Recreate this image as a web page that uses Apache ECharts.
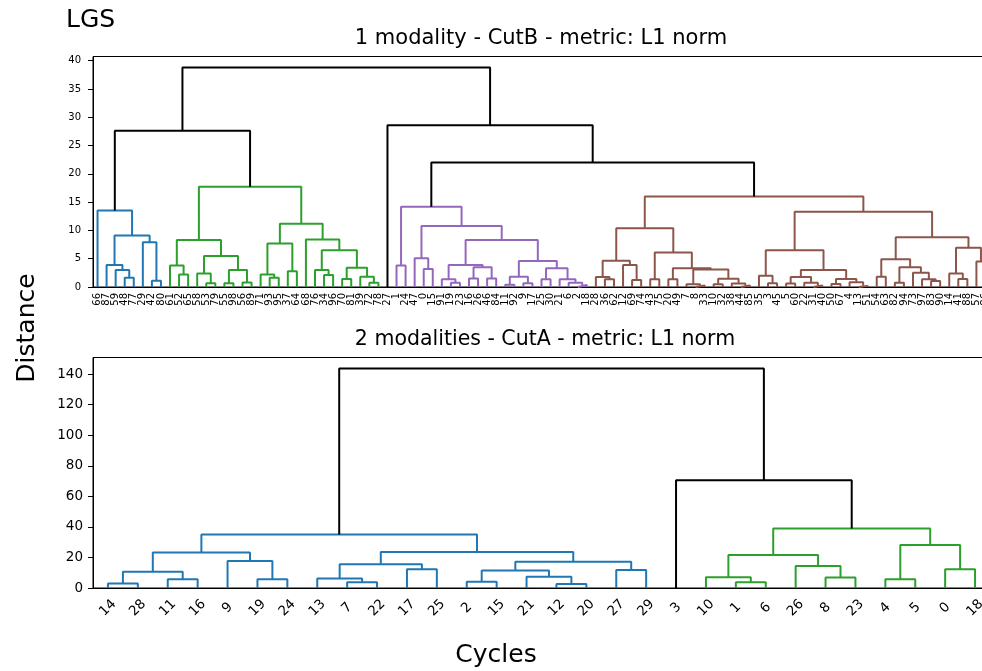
<!DOCTYPE html>
<html><head><meta charset="utf-8">
<script src="https://cdn.jsdelivr.net/npm/echarts@6/dist/echarts.min.js"></script>
<style>html,body{margin:0;padding:0;background:#fff}#c{width:982px;height:671px}</style>
</head><body><div id="c"></div>
<script>
// ---------- DATA ----------
// Leaf labels in dendrogram order (left to right)
const topLeaves = [66,87,59,48,77,29,42,80,61,52,65,58,53,79,55,98,56,89,71,93,95,37,64,68,76,34,96,70,81,39,72,78,27,1,24,47,0,15,91,19,23,16,26,46,84,11,92,9,17,25,30,21,6,2,18,28,36,62,12,69,74,43,75,20,49,7,8,33,10,32,38,44,85,35,3,45,5,60,22,31,40,50,67,4,13,51,54,63,82,94,73,97,83,90,14,41,88,57,86];
const bottomLeaves = [14,28,11,16,9,19,24,13,7,22,17,25,2,15,21,12,20,27,29,3,10,1,6,26,8,23,4,5,0,18];

// Merge trees: a leaf is its position in the leaf order, a merge is [left, right, distance]
const topBlue = [0, [[1, [2, [3, 4, 1.65], 3.0], 3.9], [5, [6, 7, 1.1], 7.9], 9.1], 13.5];
const topGreenL = [[8, [9, 10, 2.2], 3.8], [[11, [12, 13, 0.65], 2.4], [[14, 15, 0.65], [16, 17, 0.8], 3.0], 5.5], 8.3];
const topGreenR = [[[18, [19, 20, 1.65], 2.2], [21, 22, 2.8], 7.7], [23, [[24, [25, 26, 2.1], 3.0], [[27, 28, 1.4], [29, [30, 31, 0.75], 1.8], 3.4], 6.5], 8.4], 11.2];
const topPurpleA = [[38, [39, 40, 0.75], 1.35], [[41, 42, 1.5], [43, 44, 1.5], 3.5], 3.9];
const topPurpleB = [[[45, 46, 0.4], [47, 48, 0.65], 1.8], [[49, 50, 1.35], [51, [52, [53, 54, 0.35], 0.75], 1.35], 3.3], 4.6];
const topBrownL = [[[55, [56, 57, 1.35], 1.75], [58, [59, 60, 1.25], 3.9], 4.65], [[61, 62, 1.35], [[63, 64, 1.35], [[65, [66, 67, 0.25], 0.5], [[68, 69, 0.5], [70, [71, 72, 0.25], 0.6], 1.45], 3.1], 3.3], 6.1], 10.4];
const topBrownR1 = [[73, [74, 75, 0.65], 2.0], [[[76, 77, 0.6], [78, [79, 80, 0.25], 0.75], 1.75], [[81, 82, 0.55], [83, [84, 85, 0.2], 0.85], 1.4], 3.0], 6.5];
const topBrownR2 = [[[86, 87, 1.8], [[88, 89, 0.75], [90, [91, [92, 93, 1.05], 1.35], 2.5], 3.5], 4.9], [[94, [95, 96, 1.4], 2.4], [97, 98, 4.5], 6.95], 8.8];
const topHeights = { green: 17.7, purple: 14.2, purpleMid: 10.8, purpleSub: 8.3, purpleSmall: 3.8, purple35: 5.1, purple36: 3.2,
  brownR: 13.3, brown: 16.0, blueGreen: 27.6, purpleBrown: 22.0, single27: 28.6, root: 38.8 };
const topThreshold = 20;
const topPalette = ['#1f77b4', '#2ca02c', '#9467bd', '#8c564b'];

const bottomBlue = [[[[0, 1, 3.0], [2, 3, 5.7], 10.7], [4, [5, 6, 5.7], 17.7], 23.3], [[[7, [8, 9, 3.7], 6.3], [10, 11, 12.2], 15.6], [[[12, 13, 4.1], [14, [15, 16, 2.6], 7.4], 11.4], [17, 18, 11.8], 17.2], 23.5], 35.1];
const bottomGreen = [[[20, [21, 22, 3.7], 7.0], [23, [24, 25, 6.8], 14.4], 21.6], [[26, 27, 5.7], [28, 29, 12.2], 28.1], 39.0];
const bottomHeights = { single3: 70.6, root: 143.7 };
const bottomThreshold = 50;
const bottomPalette = ['#1f77b4', '#2ca02c'];

const topYTicks = { interval: 5 };
const bottomYTicks = { interval: 20 };

// ---------- TREE ASSEMBLY ----------
const H = topHeights;
const topPurple = [[33, 34, H.purpleSmall], [[35, [36, 37, H.purple36], H.purple35], [topPurpleA, topPurpleB, H.purpleSub], H.purpleMid], H.purple];
const topGreen = [topGreenL, topGreenR, H.green];
const topBrown = [topBrownL, [topBrownR1, topBrownR2, H.brownR], H.brown];
const topTree = [[topBlue, topGreen, H.blueGreen], [32, [topPurple, topBrown, H.purpleBrown], H.single27], H.root];
const bottomTree = [bottomBlue, [19, bottomGreen, bottomHeights.single3], bottomHeights.root];

function buildLinks(tree, threshold, palette) {
  const links = []; let ci = 0;
  function walk(node, color) {
    if (typeof node === 'number') return { x: node * 10 + 5, h: 0 };
    const l = node[0], r = node[1], h = node[2];
    let c;
    if (h >= threshold) c = '#000000';
    else if (color == null) c = palette[(ci++) % palette.length];
    else c = color;
    const pass = (c === '#000000') ? null : c;
    const L = walk(l, pass);
    const R = walk(r, pass);
    links.push({ pts: [[L.x, L.h], [L.x, h], [R.x, h], [R.x, R.h]], color: c });
    return { x: (L.x + R.x) / 2, h: h };
  }
  walk(tree, null);
  return links;
}
function maxH(tree) { return typeof tree === 'number' ? 0 : Math.max(tree[2], maxH(tree[0]), maxH(tree[1])); }

const topLinks = buildLinks(topTree, topThreshold, topPalette);
const bottomLinks = buildLinks(bottomTree, bottomThreshold, bottomPalette);

const FONT = '"DejaVu Sans", "Liberation Sans", sans-serif';
const series = [];
topLinks.forEach(k => series.push({ type: 'line', xAxisIndex: 1, yAxisIndex: 0, data: k.pts, symbol: 'none', silent: true,
  lineStyle: { color: k.color, width: 2 }, animation: false }));
bottomLinks.forEach(k => series.push({ type: 'line', xAxisIndex: 3, yAxisIndex: 1, data: k.pts, symbol: 'none', silent: true,
  lineStyle: { color: k.color, width: 2 }, animation: false }));

function fmt(step) { return v => (Math.abs(v / step - Math.round(v / step)) < 1e-6 ? String(Math.round(v)) : ''); }

const chart = echarts.init(document.getElementById('c'), null, { renderer: 'canvas' });
chart.setOption({
  animation: false,
  backgroundColor: '#fff',
  grid: [
    { left: 93, top: 56.5, width: 897, height: 230.5, show: true, borderColor: '#000', borderWidth: 1, backgroundColor: 'transparent', outerBoundsMode: 'none', containLabel: false },
    { left: 93, top: 357.5, width: 897, height: 230.5, show: true, borderColor: '#000', borderWidth: 1, backgroundColor: 'transparent', outerBoundsMode: 'none', containLabel: false }
  ],
  xAxis: [
    { type: 'category', gridIndex: 0, data: topLeaves.map(String), boundaryGap: true,
      axisLine: { lineStyle: { color: '#000', width: 1 } }, axisTick: { show: false },
      axisLabel: { interval: 0, rotate: 90, fontSize: 10, fontFamily: FONT, color: '#000', margin: 6 }, splitLine: { show: false } },
    { type: 'value', gridIndex: 0, min: 0, max: topLeaves.length * 10, show: false, splitLine: { show: false } },
    { type: 'category', gridIndex: 1, data: bottomLeaves.map(String), boundaryGap: true,
      axisLine: { lineStyle: { color: '#000', width: 1 } }, axisTick: { show: false },
      axisLabel: { interval: 0, rotate: 45, align: 'center', verticalAlign: 'middle', fontSize: 13.5, fontFamily: FONT, color: '#000', margin: 20 }, splitLine: { show: false } },
    { type: 'value', gridIndex: 1, min: 0, max: bottomLeaves.length * 10, show: false, splitLine: { show: false } }
  ],
  yAxis: [
    { type: 'value', gridIndex: 0, min: 0, max: maxH(topTree) * 1.05, interval: topYTicks.interval,
      axisLine: { show: true, lineStyle: { color: '#000', width: 1 } },
      axisTick: { show: true, length: 5, lineStyle: { color: '#000' } },
      axisLabel: { fontSize: 10, fontFamily: FONT, color: '#000', margin: 12, showMaxLabel: false, formatter: fmt(topYTicks.interval) },
      splitLine: { show: false } },
    { type: 'value', gridIndex: 1, min: 0, max: maxH(bottomTree) * 1.05, interval: bottomYTicks.interval,
      axisLine: { show: true, lineStyle: { color: '#000', width: 1 } },
      axisTick: { show: true, length: 5, lineStyle: { color: '#000' } },
      axisLabel: { fontSize: 13.5, fontFamily: FONT, color: '#000', margin: 10, showMaxLabel: false, formatter: fmt(bottomYTicks.interval) },
      splitLine: { show: false } }
  ],
  graphic: [
    { type: 'text', x: 66, y: 20, style: { text: 'LGS', font: '25px ' + FONT, fill: '#000', align: 'left', verticalAlign: 'middle' } },
    { type: 'text', x: 541, y: 39, style: { text: '1 modality - CutB - metric: L1 norm', font: '21px ' + FONT, fill: '#000', align: 'center', verticalAlign: 'middle' } },
    { type: 'text', x: 545, y: 340, style: { text: '2 modalities - CutA - metric: L1 norm', font: '20.5px ' + FONT, fill: '#000', align: 'center', verticalAlign: 'middle' } },
    { type: 'text', x: 27, y: 328, rotation: Math.PI / 2, style: { text: 'Distance', font: '25px ' + FONT, fill: '#000', align: 'center', verticalAlign: 'middle' } },
    { type: 'text', x: 496, y: 655, style: { text: 'Cycles', font: '25px ' + FONT, fill: '#000', align: 'center', verticalAlign: 'middle' } }
  ],
  series: series
});
</script>
</body></html>
